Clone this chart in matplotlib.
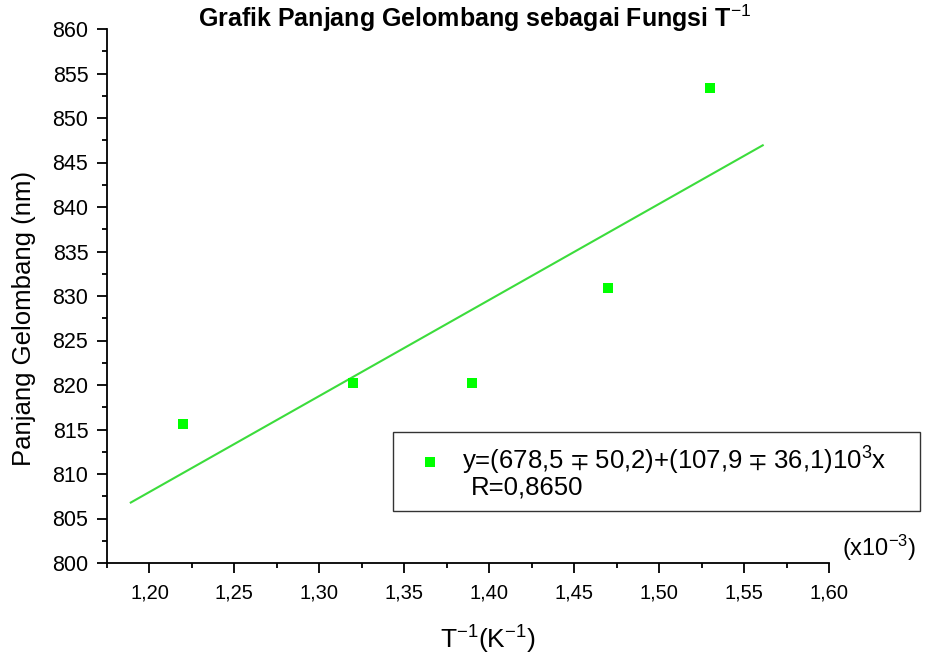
import matplotlib
matplotlib.use("Agg")
import matplotlib.pyplot as plt
from matplotlib.patches import Rectangle
from matplotlib.lines import Line2D
import numpy as np

# Data (x in units of 1e-3 K^-1)
inv_T = [1.22, 1.32, 1.39, 1.47, 1.53]
wavelength = [815.6, 820.2, 820.2, 830.9, 853.4]
fit_intercept = 678.5
fit_slope = 107.9
fit_range = [1.189, 1.561]
xticks = [1.20, 1.25, 1.30, 1.35, 1.40, 1.45, 1.50, 1.55, 1.60]
yticks = [800, 805, 810, 815, 820, 825, 830, 835, 840, 845, 850, 855, 860]

plt.rcParams['font.family'] = ['Liberation Sans', 'DejaVu Sans']
plt.rcParams['mathtext.fontset'] = 'custom'
plt.rcParams['mathtext.rm'] = 'Liberation Sans'
plt.rcParams['mathtext.it'] = 'Liberation Sans'
plt.rcParams['mathtext.bf'] = 'Liberation Sans:bold'
plt.rcParams['mathtext.fallback'] = 'stixsans'

W, H = 935, 662
fig = plt.figure(figsize=(W/100, H/100), dpi=100)
ax = fig.add_axes([107/W, 1-563/H, (829-107)/W, (563-29)/H])

green = '#00ff00'
ax.plot(inv_T, wavelength, linestyle='none', marker='s', markersize=7.2,
        color=green, markeredgewidth=0, zorder=3)
xf = np.array(fit_range)
ax.plot(xf, fit_intercept + fit_slope * xf, color='#3cdc3c', lw=1.5, zorder=2)

ax.set_xlim(1.175, 1.60)
ax.set_ylim(800, 860)
ax.set_xticks(xticks)
ax.set_xticklabels([f"{v:.2f}".replace('.', ',') for v in xticks])
ax.set_xticks(np.arange(1.175, 1.601, 0.025), minor=True)
ax.set_yticks(yticks)
ax.set_yticklabels([str(v) for v in yticks])
ax.set_yticks(np.arange(800, 860.1, 2.5), minor=True)

for s in ['top', 'right']:
    ax.spines[s].set_visible(False)
for s in ['left', 'bottom']:
    ax.spines[s].set_linewidth(1.3)
ax.tick_params(which='major', direction='out', length=7.5, width=1.3)
ax.tick_params(axis='x', which='major', labelsize=14.5, pad=7)
ax.tick_params(axis='y', which='major', labelsize=15.5, pad=6)
ax.tick_params(which='minor', direction='out', length=3.5, width=1.3)

fig.text(24/W, 1-318/H, 'Panjang Gelombang (nm)', rotation=90,
         ha='center', va='center', fontsize=18.5)
fig.text(488/W, 1-640/H, 'T$^{-1}$(K$^{-1}$)', ha='center', va='center', fontsize=19)
fig.text(475/W, 1-18/H, 'Grafik Panjang Gelombang sebagai Fungsi T$^{-1}$',
         ha='center', va='center', fontsize=18, fontweight='bold')
fig.text(842/W, 1-548/H, '(x10$^{-3}$)', ha='left', va='center', fontsize=17)

# Legend box
fig.patches.append(Rectangle((393/W, 1-511/H), (920-393)/W, (511-432)/H,
                             transform=fig.transFigure, facecolor='white',
                             edgecolor='#333333', lw=1.0, zorder=5))
fig.lines.append(Line2D([430/W], [1-462/H], transform=fig.transFigure,
                        marker='s', markersize=7.2, color=green,
                        markeredgewidth=0, zorder=6))
fig.text(462/W, 1-461/H,
         'y=(%s $\\mp$ 50,2)+(%s $\\mp$ 36,1)10$^3$x' % (
             f"{fit_intercept:.1f}".replace('.', ','),
             f"{fit_slope:.1f}".replace('.', ',')),
         ha='left', va='center', fontsize=18.5, zorder=7)
fig.text(471/W, 1-488/H, 'R=0,8650', ha='left', va='center', fontsize=18.5, zorder=7)

fig.savefig('out.png', dpi=100, facecolor='white')
